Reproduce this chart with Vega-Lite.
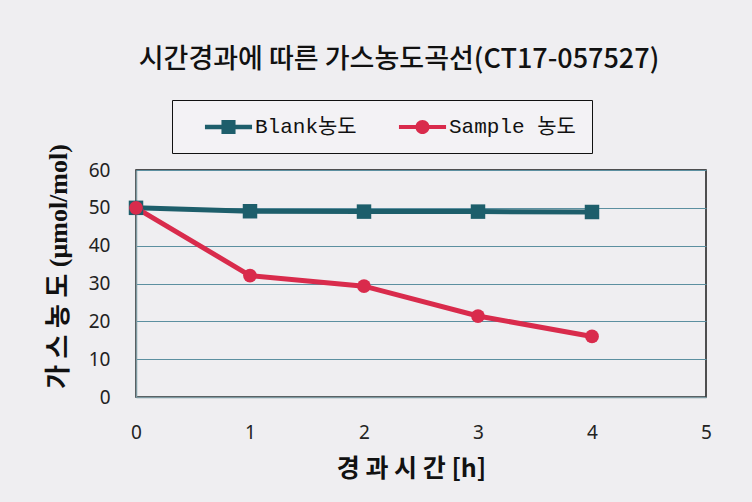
{
  "$schema": "https://vega.github.io/schema/vega-lite/v6.json",
  "width": 570,
  "height": 227,
  "autosize": "none",
  "padding": {"left": 136, "top": 170, "right": 46, "bottom": 105},
  "background": "#efeef1",
  "title": {
    "text": "시간경과에 따른 가스농도곡선(CT17-057527)",
    "font": "Noto Sans CJK KR",
    "fontSize": 27,
    "fontWeight": 500,
    "color": "#111111",
    "anchor": "middle",
    "dx": -22,
    "offset": 26
  },
  "data": {
    "values": [
      {"time": 0, "conc": 50, "series": "Blank농도"},
      {"time": 1, "conc": 49.1, "series": "Blank농도"},
      {"time": 2, "conc": 49, "series": "Blank농도"},
      {"time": 3, "conc": 49, "series": "Blank농도"},
      {"time": 4, "conc": 48.9, "series": "Blank농도"},
      {"time": 0, "conc": 50, "series": "Sample 농도"},
      {"time": 1, "conc": 32.1, "series": "Sample 농도"},
      {"time": 2, "conc": 29.3, "series": "Sample 농도"},
      {"time": 3, "conc": 21.4, "series": "Sample 농도"},
      {"time": 4, "conc": 16, "series": "Sample 농도"}
    ]
  },
  "config": {
    "view": {"stroke": "#1a1a1a", "strokeWidth": 1.5}
  },
  "encoding": {
    "x": {
      "field": "time",
      "type": "quantitative",
      "scale": {"domain": [0, 5], "nice": false},
      "axis": {
        "values": [0, 1, 2, 3, 4, 5],
        "format": "d",
        "grid": false,
        "ticks": false,
        "labelFlush": false,
        "domainColor": "#7f9aa2",
        "domainWidth": 1.5,
        "labelFont": "Noto Sans",
        "labelFontSize": 19,
        "labelColor": "#222222",
        "labelPadding": 26,
        "title": "경 과 시 간 [h]",
        "titleFont": "Noto Sans CJK KR",
        "titleFontSize": 25,
        "titleFontWeight": "bold",
        "titleColor": "#111111",
        "titleX": 275,
        "titleY": 71,
        "titleBaseline": "middle",
        "titleAlign": "center"
      }
    },
    "y": {
      "field": "conc",
      "type": "quantitative",
      "scale": {"domain": [0, 60], "nice": false},
      "axis": {
        "values": [0, 10, 20, 30, 40, 50, 60],
        "grid": true,
        "gridColor": "#5c8fa0",
        "gridWidth": 1,
        "ticks": false,
        "labelFlush": false,
        "domainColor": "#7f9aa2",
        "domainWidth": 1.5,
        "labelFont": "Noto Sans",
        "labelFontSize": 19,
        "labelColor": "#222222",
        "labelPadding": 26,
        "title": "가 스 농 도 (μmol/mol)",
        "titleFont": "Liberation Serif, Noto Sans CJK KR",
        "titleFontSize": 26,
        "titleFontWeight": "bold",
        "titleColor": "#111111",
        "titleAngle": -90,
        "titleX": -78,
        "titleY": 96,
        "titleBaseline": "middle",
        "titleAlign": "center"
      }
    },
    "color": {
      "field": "series",
      "type": "nominal",
      "scale": {"domain": ["Blank농도", "Sample 농도"], "range": ["#1d5e6b", "#d92b4c"]},
      "legend": {
        "orient": "none",
        "legendX": 36,
        "legendY": -70,
        "direction": "horizontal",
        "title": null,
        "strokeColor": "#111111",
        "fillColor": "#f3f2f5",
        "padding": 16,
        "symbolSize": 484,
        "symbolOffset": 29.5,
        "labelFont": "Liberation Mono, Noto Sans CJK KR",
        "labelFontSize": 21,
        "labelColor": "#111111",
        "labelOffset": 15.5,
        "columnPadding": 25,
        "encode": {
          "symbols": {
            "update": {
              "shape": {"signal": "datum.value === 'Blank농도' ? 'M-2.14,-0.21H2.14V0.21H-2.14Z M-0.64,-0.64H0.64V0.64H-0.64Z' : 'M-2.14,-0.18H2.14V0.18H-2.14Z M0.64,0 A0.64,0.64 0 1,1 -0.64,0 A0.64,0.64 0 1,1 0.64,0Z'"},
              "fill": {"signal": "datum.value === 'Blank농도' ? '#1d5e6b' : '#d92b4c'"},
              "fillOpacity": {"value": 1},
              "strokeWidth": {"value": 0},
              "opacity": {"value": 1}
            }
          }
        }
      }
    }
  },
  "layer": [
    {
      "mark": {"type": "line", "strokeWidth": 5}
    },
    {
      "transform": [{"filter": "datum.series === 'Blank농도'"}],
      "mark": {"type": "square", "opacity": 1, "size": 210}
    },
    {
      "transform": [{"filter": "datum.series === 'Sample 농도'"}],
      "mark": {"type": "circle", "opacity": 1, "size": 190}
    }
  ]
}
